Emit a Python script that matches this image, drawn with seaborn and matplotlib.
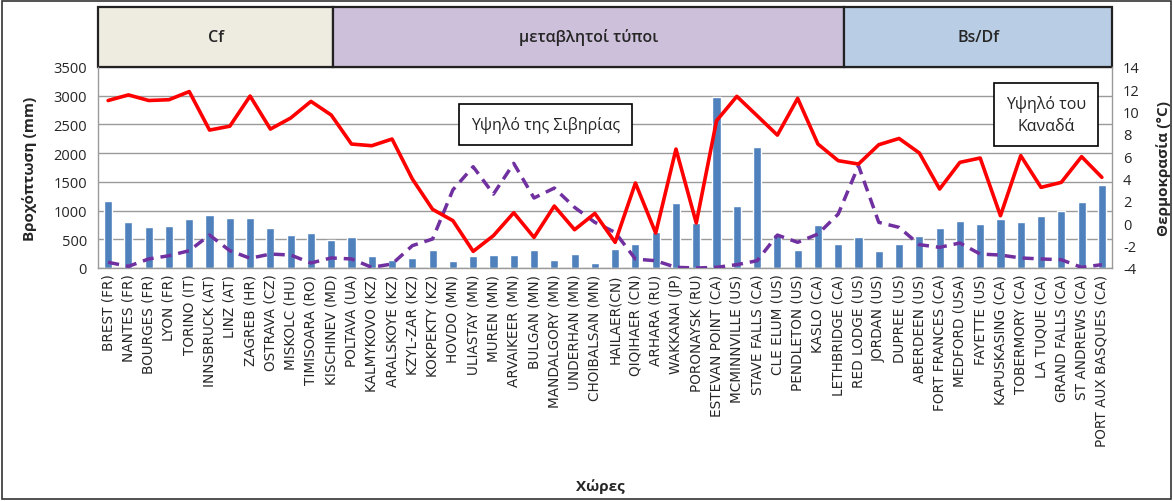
import numpy as np
import pandas as pd
import matplotlib
matplotlib.use("Agg")
import matplotlib.pyplot as plt
import seaborn as sns
from matplotlib.patches import Rectangle
import matplotlib.transforms as mtransforms

stations = ["BREST (FR)", "NANTES (FR)", "BOURGES (FR)", "LYON (FR)", "TORINO (IT)",
            "INNSBRUCK (AT)", "LINZ (AT)", "ZAGREB (HR)", "OSTRAVA (CZ)", "MISKOLC (HU)",
            "TIMISOARA (RO)", "KISCHINEV (MD)", "POLTAVA (UA)", "KALMYKOVO (KZ)", "ARALSKOYE (KZ)",
            "KZYL-ZAR (KZ)", "KOKPEKTY (KZ)", "HOVDO (MN)", "ULIASTAY (MN)", "MUREN (MN)",
            "ARVAIKEER (MN)", "BULGAN (MN)", "MANDALGORY (MN)", "UNDERHAN (MN)", "CHOIBALSAN (MN)",
            "HAILAER(CN)", "QIQIHAER (CN)", "ARHARA (RU)", "WAKKANAI (JP)", "PORONAYSK (RU)",
            "ESTEVAN POINT (CA)", "MCMINNVILLE (US)", "STAVE FALLS (CA)", "CLE ELUM (US)", "PENDLETON (US)",
            "KASLO (CA)", "LETHBRIDGE (CA)", "RED LODGE (US)", "JORDAN (US)", "DUPREE (US)",
            "ABERDEEN (US)", "FORT FRANCES (CA)", "MEDFORD (USA)", "FAYETTE (US)", "KAPUSKASING (CA)",
            "TOBERMORY (CA)", "LA TUQUE (CA)", "GRAND FALLS (CA)", "ST ANDREWS (CA)", "PORT AUX BASQUES (CA)"]

precip = [1160, 807, 720, 737, 854, 923, 871, 871, 702, 569,
          604, 494, 534, 209, 139, 174, 314, 122, 209, 226,
          226, 314, 139, 244, 87, 331, 418, 633, 1127, 784,
          2985, 1080, 2113, 592, 314, 755, 418, 534, 296, 418,
          552, 691, 824, 772, 859, 807, 906, 999, 1150, 1452]

temp_red = [11.0, 11.5, 11.0, 11.07, 11.8, 8.35, 8.7, 11.4, 8.44, 9.43,
            10.92, 9.7, 7.1, 6.95, 7.55, 3.97, 1.25, 0.24, -2.51, -1.1,
            0.95, -1.26, 1.55, -0.57, 0.89, -1.7, 3.61, -0.87, 6.65, 0.03,
            9.19, 11.37, 9.64, 7.9, 11.19, 7.1, 5.61, 5.31, 7.04, 7.6,
            6.3, 3.07, 5.46, 5.85, 0.68, 6.06, 3.22, 3.67, 5.97, 4.12]

temp_purple = [-3.49, -3.85, -3.19, -2.9, -2.45, -1.05, -2.45, -3.13, -2.75, -2.84,
               -3.55, -3.1, -3.19, -3.94, -3.64, -2.0, -1.4, 3.0, 5.07, 2.62,
               5.37, 2.27, 3.16, 1.43, 0.09, -0.81, -3.2, -3.35, -3.94, -4.0,
               -3.94, -3.7, -3.35, -1.05, -1.7, -0.96, 0.83, 5.16, 0.09, -0.36,
               -1.91, -2.15, -1.76, -2.75, -2.84, -3.1, -3.19, -3.26, -3.94, -3.7]

bands = ["Cf", "μεταβλητοί τύποι", "Bs/Df"]
band_edges = [-0.5, 11.1, 36.3, 49.5]
band_colors = ["#EEEBE0", "#CCC0DA", "#B9CDE5"]

left_ticks = [0, 500, 1000, 1500, 2000, 2500, 3000, 3500]
right_ticks = [-4, -2, 0, 2, 4, 6, 8, 10, 12, 14]

sns.set_theme(style="white")
plt.rcParams['font.family'] = ['Open Sans', 'DejaVu Sans']

W, H = 1173, 502
fig = plt.figure(figsize=(W / 100, H / 100), dpi=100)
ax = fig.add_axes([98 / W, 1 - 269 / H, (1112 - 98) / W, (269 - 68) / H])

df = pd.DataFrame({"station": stations, "precip": precip})
sns.barplot(data=df, x="station", y="precip", color="#4F81BD", saturation=1,
            width=0.4, ax=ax, zorder=2)
ax.set_xlim(-0.5, len(stations) - 0.5)
ax.set_ylim(0, 3500)
ax.set_yticks(left_ticks)
ax.set_yticklabels([str(t) for t in left_ticks], fontsize=10.5)
ax.yaxis.grid(True, color="#9A9A9A", linewidth=1.0, zorder=0)
ax.set_axisbelow(True)
ax.set_xticks(range(len(stations)))
ax.set_xticklabels(stations, rotation=90, fontsize=9.8, family=['DejaVu Sans'])
ax.tick_params(axis="x", length=0, pad=4)
ax.tick_params(axis="y", length=0, pad=8)
ax.set_xlabel("Χώρες", fontsize=11, fontweight="bold")
ax.xaxis.set_label_coords(0.495, -1.045)
ax.set_ylabel("Βροχόπτωση (mm)", fontsize=11, fontweight="bold", labelpad=12)
for s in ["left", "bottom", "right"]:
    ax.spines[s].set_color("#9A9A9A")
    ax.spines[s].set_linewidth(1)
ax.spines["top"].set_visible(False)

ax2 = ax.twinx()
x = np.arange(len(stations))
sns.lineplot(x=x, y=temp_red, color="#FF0000", linewidth=2.6, ax=ax2, zorder=5)
sns.lineplot(x=x, y=temp_purple, color="#7030A0", linewidth=2.5, ax=ax2, zorder=4,
             linestyle=(0, (3.2, 2)))
ax2.set_ylim(-4, 14)
ax2.set_yticks(right_ticks)
ax2.set_yticklabels([str(t) for t in right_ticks], fontsize=10.5)
ax2.tick_params(axis="y", length=0, pad=8)
ax2.set_ylabel("Θερμοκρασία (°C)", fontsize=11, fontweight="bold", rotation=90, labelpad=12)
for s in ["left", "right", "bottom", "top"]:
    ax2.spines[s].set_visible(False)
ax.set_xlim(-0.5, len(stations) - 0.5)

# climate-type bands above the plot
trans = mtransforms.blended_transform_factory(ax.transData, ax.transAxes)
top = 1 + (68 - 8) / 201
for lab, x0, x1, c in zip(bands, band_edges[:-1], band_edges[1:], band_colors):
    ax.add_patch(Rectangle((x0, 1.0), x1 - x0, top - 1.0, transform=trans,
                           facecolor=c, edgecolor="#222222", linewidth=1.6, clip_on=False))
    ax.text((x0 + x1) / 2, (1.0 + top) / 2, lab, transform=trans, ha="center", va="center",
            fontsize=11.5, fontweight="semibold")

# annotation boxes
ax2.text(21.57, 0.714, "Υψηλό της Σιβηρίας", transform=trans, ha="center", va="center",
         fontsize=11.5, zorder=10,
         bbox=dict(boxstyle="square,pad=0.75", facecolor="white", edgecolor="black", linewidth=1.2))
ax2.text(46.25, 0.764, "Υψηλό του\nΚαναδά", transform=trans, ha="center", va="center",
         fontsize=11.5, zorder=10, linespacing=1.5,
         bbox=dict(boxstyle="square,pad=0.75", facecolor="white", edgecolor="black", linewidth=1.2))

# chart-area border
fig.add_artist(Rectangle((2 / W, 2 / H), 1 - 4 / W, 1 - 4 / H, transform=fig.transFigure,
                         fill=False, edgecolor="#333333", linewidth=1.2))

fig.savefig("out.png", dpi=100)
